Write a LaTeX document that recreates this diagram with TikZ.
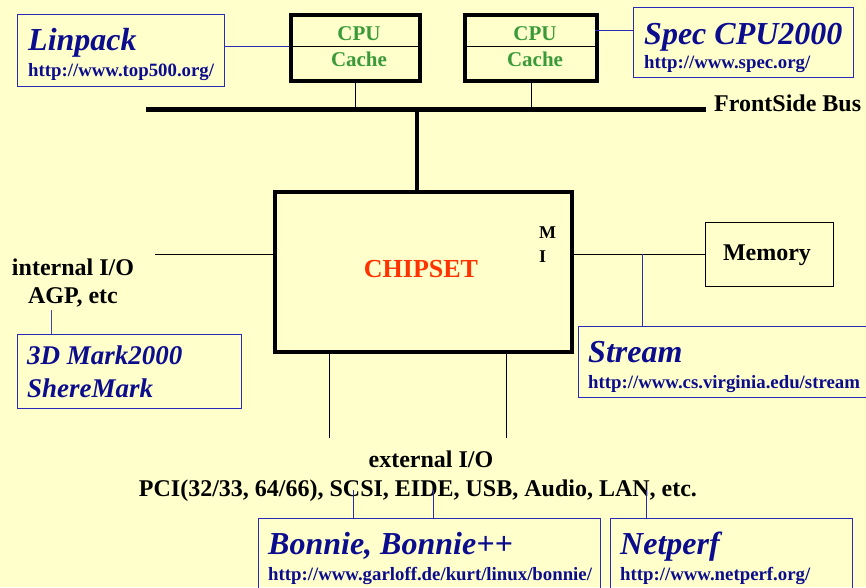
\documentclass[tikz,border=0pt]{standalone}
\usepackage{fontspec}
\setmainfont{Liberation Serif}
\definecolor{bg}{HTML}{FFFFCC}
\definecolor{tblue}{HTML}{0C0C8E}
\definecolor{bblue}{HTML}{2A2AB8}
\definecolor{cgreen}{HTML}{3A9A3A}
\definecolor{cred}{HTML}{FF3300}
\begin{document}
\begin{tikzpicture}[x=1pt,y=-1pt,
  bluebox/.style={draw=bblue,line width=1.1pt,anchor=north west,inner sep=0},
  blackbox/.style={draw=black,line width=1.1pt,anchor=north west,inner sep=0},
  thickbox/.style={draw=black,line width=4pt,anchor=north west,inner sep=0},
  ttl/.style={font=\fontsize{32}{32}\selectfont\bfseries\itshape,text=tblue,anchor=base west,inner sep=0},
  ttlsm/.style={font=\fontsize{27}{27}\selectfont\bfseries\itshape,text=tblue,anchor=base west,inner sep=0},
  url/.style={font=\fontsize{18.8}{18.8}\selectfont\bfseries,text=tblue,anchor=base west,inner sep=0},
  lbl/.style={font=\fontsize{24}{24}\selectfont\bfseries,anchor=base,inner sep=0},
  cpulbl/.style={font=\fontsize{21}{21}\selectfont\bfseries,text=cgreen,anchor=base,inner sep=0},
  bconn/.style={draw=bblue,line width=1pt},
  kconn/.style={draw=black,line width=1pt}]
\fill[bg] (0,0) rectangle (866,587);
\useasboundingbox (0,0) rectangle (866,587);

% CPU boxes
\node[thickbox,minimum width=129,minimum height=66] (cpu1) at (289,13) {};
\node[thickbox,minimum width=132,minimum height=66] (cpu2) at (463,13) {};
\coordinate (d1) at (289,46);
\coordinate (d2) at (463,46);
\draw[kconn] (cpu1.west |- d1) -- (cpu1.east |- d1);
\draw[kconn] (cpu2.west |- d2) -- (cpu2.east |- d2);
\node[cpulbl] (cpu1a) at (359,40) {CPU};
\node[cpulbl] (cpu1b) at (359,66) {Cache};
\node[cpulbl] (cpu2a) at (535,40) {CPU};
\node[cpulbl] (cpu2b) at (535,66) {Cache};

% Linpack
\node[bluebox,minimum width=207,minimum height=72] (linpack) at (17,14) {};
\node[ttl] (linpackt) at (28,50) {Linpack};
\node[url] (linpacku) at (28,76) {http://www.top500.org/};
\draw[bconn] (linpack.east |- d1) -- (cpu1.west |- d1);

% Spec
\node[bluebox,minimum width=220,minimum height=70] (spec) at (633,7) {};
\node[ttl] (spect) at (644,44) {Spec CPU2000};
\node[url] (specu) at (644,68) {http://www.spec.org/};
\coordinate (s2) at (595,30);
\draw[bconn] (s2) -- (spec.west |- s2);

% Bus
\coordinate (busL) at (146,109);
\coordinate (busR) at (706,109);
\draw[line width=5pt] (busL) -- (busR);
\node[lbl,anchor=base west] (fsb) at (714,111) {FrontSide Bus};
\draw[kconn] (cpu1.south) -- (cpu1.south |- busL);
\draw[kconn] (cpu2.south) -- (cpu2.south |- busL);

% Chipset
\node[thickbox,minimum width=297,minimum height=160] (chip) at (273,190) {};
\coordinate (bustap) at (417,109);
\draw[line width=4pt] (bustap) -- (bustap |- chip.north);
\node[font=\fontsize{26}{26}\selectfont\bfseries,text=cred,anchor=base,inner sep=0] (chipt) at (421,277) {CHIPSET};
\node[font=\fontsize{18}{18}\selectfont\bfseries,anchor=base west,inner sep=0] (mt) at (539,238) {M};
\node[font=\fontsize{18}{18}\selectfont\bfseries,anchor=base west,inner sep=0] (it) at (539,262) {I};

% Memory
\coordinate (mi) at (570,254);
\node[blackbox,minimum width=128,minimum height=64] (mem) at (705,222) {};
\node[lbl] (memt) at (767,260) {Memory};
\draw[kconn] (mi) -- (mem.west |- mi);

% Stream
\node[bluebox,minimum width=290,minimum height=71] (stream) at (578,326) {};
\node[ttl] (streamt) at (588,362) {Stream};
\node[url] (streamu) at (588,388) {http://www.cs.virginia.edu/stream};
\coordinate (st) at (642,254);
\draw[bconn] (st) -- (st |- stream.north);

% internal IO
\coordinate (iol) at (155,254);
\draw[kconn] (iol) -- (chip.west |- iol);
\node[lbl] (intio) at (73,275) {internal I/O};
\node[lbl] (agp) at (73,303) {AGP, etc};
\node[bluebox,minimum width=224,minimum height=74] (mark) at (17,334) {};
\node[ttlsm] (markt1) at (27,364) {3D Mark2000};
\node[ttlsm] (markt2) at (27,397) {ShereMark};
\coordinate (mk) at (51,310);
\draw[draw=bblue!70!gray,line width=1pt] (mk) -- (mk |- mark.north);

% external IO
\coordinate (e1) at (329,350);
\coordinate (e2) at (506,350);
\draw[kconn] (e1) -- (329,438);
\draw[kconn] (e2) -- (506,438);
\node[lbl] (extio) at (431,467) {external I/O};
\node[lbl] (pci) at (418,496) {PCI(32/33, 64/66), SCSI, EIDE, USB, Audio, LAN, etc.};

% Bonnie / Netperf
\node[bluebox,minimum width=342,minimum height=80] (bonnie) at (258,518) {};
\node[ttl] (bonniet) at (268,554) {Bonnie, Bonnie++};
\node[url] (bonnieu) at (268,580) {http://www.garloff.de/kurt/linux/bonnie/};
\node[bluebox,minimum width=242,minimum height=80] (netperf) at (610,518) {};
\node[ttl] (netperft) at (620,554) {Netperf};
\node[url] (netperfu) at (620,580) {http://www.netperf.org/};
\coordinate (p1) at (353,490);
\coordinate (p2) at (433,490);
\coordinate (p3) at (646,490);
\draw[bconn] (p1) -- (p1 |- bonnie.north);
\draw[bconn] (p2) -- (p2 |- bonnie.north);
\draw[bconn] (p3) -- (p3 |- netperf.north);
\end{tikzpicture}
\end{document}
